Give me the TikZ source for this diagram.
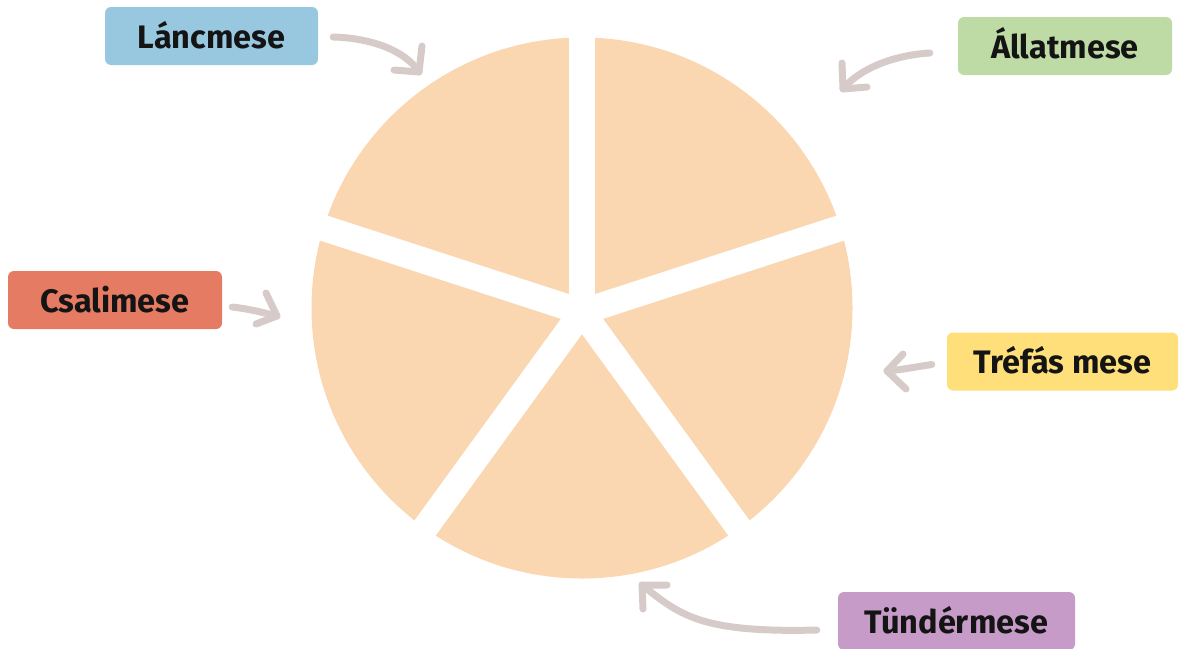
\documentclass[tikz,border=0pt]{standalone}
\usepackage{fontspec}
\setmainfont{Fira Sans}
\usetikzlibrary{calc}
\definecolor{piec}{HTML}{FAD6B1}
\definecolor{arrc}{HTML}{D6CBC9}
\definecolor{cblue}{HTML}{97C8E0}
\definecolor{cgreen}{HTML}{BEDBA5}
\definecolor{cred}{HTML}{E47B62}
\definecolor{cyellow}{HTML}{FEDF7A}
\definecolor{cpurple}{HTML}{C69BC8}
\begin{document}
\begin{tikzpicture}[x=1pt,y=-1pt,
  lbl/.style={rounded corners=6pt, inner sep=0pt, text=black!92,
    font=\fontsize{32.5}{38}\selectfont\bfseries,
    text height=24pt, text depth=0pt, minimum height=58pt},
  arr/.style={draw=arrc, line width=7pt, line cap=round, line join=round},
  gap/.style={draw=white, line width=26pt}]
\useasboundingbox (0,0) rectangle (1180,648);
% pie
\fill[piec] (582,308) circle[radius=270.5];
\coordinate (c) at (582,312);
\foreach \a in {-90,-18,54,126,198} \draw[gap] (c) -- ++(\a:300);
% labels
\node[lbl, fill=cblue, minimum width=213pt] (lanc) at (211.5,36) {Láncmese};
\node[lbl, fill=cgreen, minimum width=214pt] (allat) at (1065,46) {Állatmese};
\node[lbl, fill=cred, minimum width=214pt] (csali) at (115,300) {Csalimese};
\node[lbl, fill=cyellow, minimum width=231pt] (trefas) at (1062.5,361.5) {Tréfás mese};
\node[lbl, fill=cpurple, minimum width=237pt] (tunder) at (956.5,621) {Tündérmese};
% arrow ends
\coordinate (t1) at (419,72);
\coordinate (t2) at (843,89);
\coordinate (t3) at (277,316);
\coordinate (t4) at (887,371);
\coordinate (t5) at (642,585);
% arrows
\draw[arr] ($(lanc.east)+(15,1)$) .. controls (370,38) and (405,50) .. (t1);
\draw[arr] (422,46) -- (t1) -- (394,70);
\draw[arr] ($(allat.west)+(-28,7)$) .. controls (895,55) and (860,68) .. (t2);
\draw[arr] (842,63) -- (t2) -- (867,87);
\draw[arr] ($(csali.east)+(10,7)$) .. controls (250,309) and (265,313) .. (t3);
\draw[arr] (266,293) -- (t3) -- (256,324);
\draw[arr] ($(trefas.west)+(-15,3)$) .. controls (915,367) and (900,370) .. (t4);
\draw[arr] (903,354) -- (t4) -- (906,389);
\draw[arr] ($(tunder.west)+(-21,9)$) .. controls (700,633) and (680,615) .. (t5);
\draw[arr] (667,585) -- (t5) -- (643,609);
\end{tikzpicture}
\end{document}
